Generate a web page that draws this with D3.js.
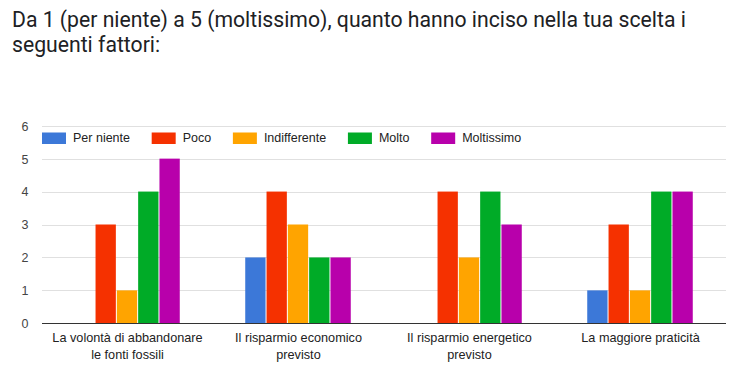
<!DOCTYPE html>
<html><head><meta charset="utf-8">
<script src="https://cdn.jsdelivr.net/npm/d3@7"></script>
<style>body{margin:0;background:#fff;} svg{display:block;}</style>
</head><body>
<svg id="c" width="751" height="366"></svg>
<script>
const titleLines = ["Da 1 (per niente) a 5 (moltissimo), quanto hanno inciso nella tua scelta i", "seguenti fattori:"];
const categories = [["La volontà di abbandonare","le fonti fossili"],["Il risparmio economico","previsto"],["Il risparmio energetico","previsto"],["La maggiore praticità"]];
const series = ["Per niente","Poco","Indifferente","Molto","Moltissimo"];
const colors = ["#3c78d8","#f53100","#ffa400","#00ab27","#b800ab"];
const perNiente = [0,2,0,1];
const poco = [3,4,4,3];
const indifferente = [1,3,2,1];
const molto = [4,2,4,4];
const moltissimo = [5,2,3,4];
const yTicks = [0,1,2,3,4,5,6];
const values = [perNiente,poco,indifferente,molto,moltissimo];

(function(){
const svg = d3.select("#c");
const tfont = "Roboto, sans-serif";
const font = "'Liberation Sans', Arial, sans-serif";

// title
svg.append("g").selectAll("text").data(titleLines).join("text")
  .attr("x",12).attr("y",(d,i)=>26.5+i*25)
  .attr("font-family",tfont).attr("font-size",21.2).attr("fill","#202124")
  .text(d=>d);

const pl=42, pr=726, pt=125.7, pb=323.3;
const catKeys = categories.map((c,i)=>i);
const x0 = d3.scaleBand().domain(catKeys).range([pl,pr]).paddingInner(0.377).paddingOuter(0.1885);
const x1 = d3.scaleBand().domain(series).range([0,x0.bandwidth()]);
const y = d3.scaleLinear().domain([0,6]).range([pb,pt]);

// grid
svg.append("g").selectAll("line").data(yTicks.filter(t=>t>0)).join("line")
  .attr("x1",pl).attr("x2",pr).attr("y1",d=>Math.round(y(d))+0.5).attr("y2",d=>Math.round(y(d))+0.5)
  .attr("stroke","#e0e0e0").attr("stroke-width",1);

// y axis labels
const yAxis = d3.axisLeft(y).tickValues(yTicks).tickSize(0).tickPadding(0).tickFormat(d3.format("d"));
const ya = svg.append("g").attr("transform",`translate(28.5,0)`).call(yAxis);
ya.select(".domain").remove();
ya.selectAll("text").attr("font-family",font).attr("font-size",12.5).attr("fill","#444").attr("dy","0.35em");

// bars
const groups = svg.append("g").selectAll("g").data(catKeys).join("g")
  .attr("transform",d=>`translate(${x0(d)},0)`);
groups.selectAll("rect").data(ci=>series.map((s,si)=>({s,si,v:values[si][ci]})).filter(d=>d.v>0)).join("rect")
  .attr("x",d=>x1(d.s)).attr("width",x1.bandwidth()-1)
  .attr("y",d=>y(d.v)).attr("height",d=>y(0)-y(d.v))
  .attr("fill",d=>colors[d.si]);

// baseline
svg.append("line").attr("x1",pl).attr("x2",pr).attr("y1",Math.round(pb)+0.5).attr("y2",Math.round(pb)+0.5)
  .attr("stroke","#333").attr("stroke-width",1);

// x labels
const xl = svg.append("g").selectAll("text").data(catKeys).join("text")
  .attr("x",d=>x0(d)+x0.bandwidth()/2).attr("y",342).attr("text-anchor","middle")
  .attr("font-family",font).attr("font-size",12.7).attr("fill","#222");
xl.selectAll("tspan").data(d=>categories[d]).join("tspan")
  .attr("x",function(){return d3.select(this.parentNode).attr("x");})
  .attr("dy",(d,i)=>i===0?0:16.5).text(d=>d);

// legend
const leg = svg.append("g");
let lx = 42;
series.forEach((s,i)=>{
  leg.append("rect").attr("x",lx).attr("y",132.5).attr("width",24).attr("height",11.5).attr("fill",colors[i]);
  const t = leg.append("text").attr("x",lx+31).attr("y",142.3).attr("font-family",font).attr("font-size",12.5).attr("fill","#222").text(s);
  lx = lx+31+t.node().getComputedTextLength()+21.7;
});
})();
</script>
</body></html>
